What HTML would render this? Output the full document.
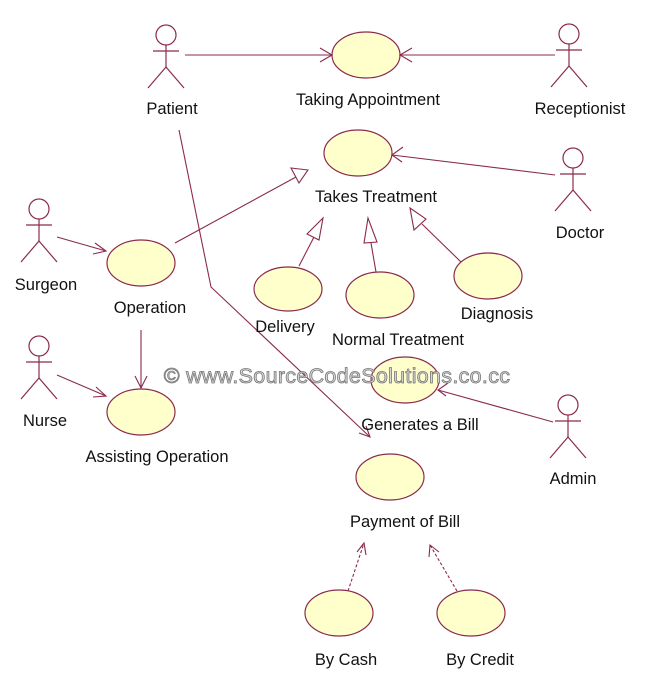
<!DOCTYPE html>
<html><head><style>
html,body{margin:0;padding:0;background:#fff;}
svg{display:block;font-family:"Liberation Sans",Arial,sans-serif;}
</style></head><body>
<svg width="650" height="697" viewBox="0 0 650 697" xmlns="http://www.w3.org/2000/svg">
<defs>
<g id="actor" fill="none" stroke="#8b2a4e" stroke-width="1.2">
<circle cx="0" cy="0" r="10" fill="#fff"/>
<line x1="0" y1="10" x2="0" y2="32"/>
<line x1="-13" y1="16" x2="13" y2="16"/>
<line x1="0" y1="32" x2="-18" y2="53"/>
<line x1="0" y1="32" x2="18" y2="53"/>
</g>
</defs>
<g fill="#ffffcc" stroke="#8b2a4e" stroke-width="1.2">
<ellipse cx="366" cy="55" rx="34" ry="23"/>
<ellipse cx="358" cy="153" rx="34" ry="23"/>
<ellipse cx="141" cy="263" rx="34" ry="23"/>
<ellipse cx="288" cy="289" rx="34" ry="22"/>
<ellipse cx="380" cy="295" rx="34" ry="23"/>
<ellipse cx="488" cy="276" rx="34" ry="23"/>
<ellipse cx="405" cy="380" rx="34" ry="23"/>
<ellipse cx="141" cy="412" rx="34" ry="23"/>
<ellipse cx="390" cy="477" rx="34" ry="23"/>
<ellipse cx="339" cy="613" rx="34" ry="23"/>
<ellipse cx="471" cy="613" rx="34" ry="23"/>
</g>
<use href="#actor" x="166" y="35"/>
<use href="#actor" x="569" y="34"/>
<use href="#actor" x="573" y="158"/>
<use href="#actor" x="39" y="209"/>
<use href="#actor" x="39" y="346"/>
<use href="#actor" x="568" y="405"/>
<g fill="none" stroke="#8b2a4e" stroke-width="1.1">
<line x1="185" y1="55" x2="332" y2="55"/><polyline points="320,48 332,55 320,62"/>
<line x1="555" y1="55" x2="400" y2="55"/><polyline points="412,48 400,55 412,62"/>
<line x1="555" y1="175" x2="392" y2="155"/><polyline points="403,147 392,155 402,162"/>
<line x1="175" y1="243" x2="296" y2="177"/><polygon points="308,170 291,168 299,183"/>
<line x1="299" y1="266" x2="314" y2="237"/><polygon points="323,218 307,234 319,240"/>
<line x1="376" y1="272" x2="371" y2="243"/><polygon points="368,218 364,243 377,242"/>
<line x1="461" y1="262" x2="422" y2="224"/><polygon points="410,208 414,230 426,219"/>
<line x1="57" y1="237" x2="106" y2="251"/><polyline points="95,243 106,251 93,254"/>
<line x1="141" y1="330" x2="141" y2="388"/><polyline points="135,376 141,388 147,376"/>
<line x1="57" y1="375" x2="106" y2="396"/><polyline points="96,387 106,396 93,397"/>
<polyline points="179,130 211,287 370,437"/><polyline points="359,433 370,437 366,426"/>
<line x1="553" y1="422" x2="438" y2="390"/><polyline points="448,383 438,390 446,396"/>
<line x1="348" y1="591" x2="364" y2="543" stroke-dasharray="3,2"/><polyline points="357,552 364,543 366,555"/>
<line x1="457" y1="591" x2="430" y2="545" stroke-dasharray="3,2"/><polyline points="429,557 430,545 439,552"/>
</g>
<g font-size="16.5" fill="#111" text-anchor="middle">
<text x="172" y="114">Patient</text>
<text x="580" y="114">Receptionist</text>
<text x="368" y="105">Taking Appointment</text>
<text x="376" y="202">Takes Treatment</text>
<text x="580" y="238">Doctor</text>
<text x="46" y="290">Surgeon</text>
<text x="150" y="313">Operation</text>
<text x="285" y="332">Delivery</text>
<text x="398" y="345">Normal Treatment</text>
<text x="497" y="319">Diagnosis</text>
<text x="45" y="426">Nurse</text>
<text x="420" y="430">Generates  a Bill</text>
<text x="157" y="462">Assisting Operation</text>
<text x="573" y="484">Admin</text>
<text x="405" y="527">Payment of Bill</text>
<text x="346" y="665">By Cash</text>
<text x="480" y="665">By Credit</text>
</g>
<text x="337" y="383" font-size="21.5" text-anchor="middle" fill="#d8d8d8" stroke="#777" stroke-width="0.8" letter-spacing="0.3">© www.SourceCodeSolutions.co.cc</text>
</svg>
</body></html>
